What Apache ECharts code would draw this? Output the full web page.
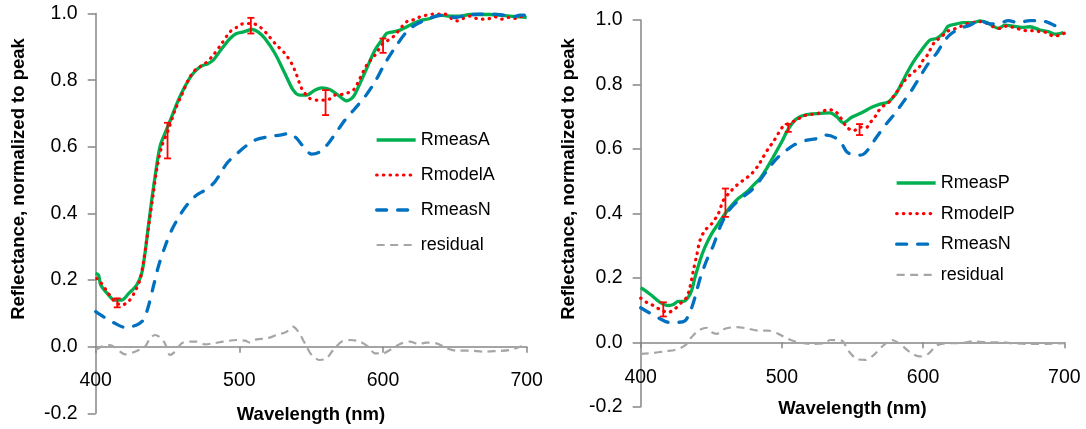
<!DOCTYPE html>
<html>
<head>
<meta charset="utf-8">
<script src="https://cdn.jsdelivr.net/npm/echarts@6/dist/echarts.min.js"></script>
<style>
html,body{margin:0;padding:0;background:#fff;}
#c{width:1086px;height:429px;}
</style>
</head>
<body>
<div id="c"></div>
<script>
// ---------- Left panel (A) ----------
const wlMeasA = [400,402,403.5,408,413,418,423,428.5,432,434.3,436.6,439,441.3,444.7,448.2,452.9,457.5,462,466.8,472.6,478.4,481.8,485.3,488.8,493.5,498,503,509,513,517.8,524.8,531.7,537.5,542,546.8,552.6,557.3,563,568.8,574.7,579.3,583.9,588.6,594.4,600,602.5,607,611.8,618.7,625.7,632.6,639.6,646.6,653.5,660.5,667.4,674.4,681.4,688.3,695.3,700];
const valMeasA = [0.22,0.215,0.185,0.16,0.14,0.14,0.16,0.185,0.22,0.28,0.36,0.44,0.51,0.60,0.64,0.69,0.74,0.78,0.815,0.84,0.85,0.86,0.88,0.90,0.925,0.94,0.945,0.952,0.945,0.925,0.88,0.82,0.77,0.755,0.755,0.77,0.777,0.772,0.755,0.738,0.75,0.79,0.835,0.89,0.925,0.94,0.945,0.95,0.965,0.978,0.985,0.995,0.992,0.992,0.997,0.997,0.997,0.995,0.992,0.99,0.988];

const wlModelA = [400.7,404,408.8,413.4,418,422.7,427.3,430.8,433.1,435.5,437.8,440.1,442.4,445.9,450.5,455.2,459.8,464.4,469.1,476.1,481.8,487.7,493.5,498,501.6,506.2,510.9,514.3,519,524.8,531.3,536.4,539.9,543.4,549.1,554.9,560.8,566.5,572.3,579.3,583.9,588.6,594.4,600,603.6,608.3,614,617.5,622.2,625.7,630.3,634.9,643.1,647.7,651.6,655.8,660.5,665.1,669.7,674.4,677.9,682.5,687.1,691.8,695.3,700];
const valModelA = [0.205,0.19,0.16,0.135,0.125,0.135,0.165,0.20,0.25,0.32,0.39,0.46,0.53,0.60,0.65,0.71,0.755,0.80,0.83,0.85,0.875,0.91,0.945,0.958,0.968,0.97,0.968,0.96,0.94,0.91,0.882,0.85,0.815,0.775,0.745,0.74,0.74,0.755,0.758,0.77,0.805,0.845,0.875,0.91,0.92,0.935,0.965,0.978,0.982,0.99,0.995,0.998,0.998,0.985,0.978,0.985,0.992,0.985,0.983,0.985,0.99,0.983,0.988,0.985,0.99,0.995];

const wlMeasNA = [400,405.3,413.4,420.4,428.5,433.1,436.6,440.1,443.6,448.2,452.9,458.7,464.4,470.3,476.1,483,491.2,498,503.9,510.9,520.1,528.3,535.2,539.9,545.6,550.3,556.1,561.9,567.7,573.5,580.5,587.4,594.4,601.3,609.5,616.4,622.2,630.3,637.3,644.3,650.1,658.2,667.4,676.7,683.6,690.6,695.3,700];
const valMeasNA = [0.105,0.09,0.07,0.058,0.065,0.08,0.12,0.18,0.24,0.30,0.35,0.395,0.43,0.455,0.47,0.495,0.55,0.578,0.60,0.62,0.63,0.635,0.64,0.625,0.595,0.578,0.585,0.61,0.645,0.68,0.715,0.75,0.795,0.85,0.905,0.945,0.965,0.982,0.992,0.995,0.988,0.995,0.998,0.998,0.995,0.99,0.995,0.995];

const wlResA = [400,405,410,417,420.4,427.3,434.3,437.8,441.3,444.7,448.2,451.7,455.2,459.8,465.6,470.3,476.1,481.8,488.8,498,503.9,507.4,512,519,526,532.9,537.1,541,545.6,550.3,556.1,560.7,565.3,571.2,577,583.9,589.7,594.4,600,604.8,611.8,618.7,624.5,630.3,637.3,644.3,651.2,660.5,669.7,679,688.3,695.3,700];
const valResA = [-0.01,0.002,0.005,-0.015,-0.023,-0.015,0.0,0.025,0.035,0.028,0.01,-0.025,-0.015,0.01,0.015,0.015,0.007,0.01,0.015,0.02,0.018,0.012,0.022,0.025,0.035,0.045,0.06,0.045,0.01,-0.025,-0.04,-0.035,-0.01,0.015,0.02,0.015,0.0,-0.02,-0.02,-0.01,0.008,0.015,0.008,0.012,0.01,-0.005,-0.012,-0.012,-0.015,-0.013,-0.01,0.0,0.01];

const errWlA = [415,450,508,560,600];
const errLoA = [0.118,0.565,0.94,0.695,0.882];
const errHiA = [0.145,0.672,0.987,0.77,0.925];

// ---------- Right panel (P) ----------
const wlMeasP = [400,403,407.8,413.7,419.5,423.1,426.6,430.2,433.7,436.1,438.5,442,445.5,450.3,455,459.7,464.4,469.1,475.1,479.7,484.5,489.2,493.9,499.9,503.4,508.1,512.8,519.9,527,534.1,538.8,543.5,549.4,556.5,563.6,569.5,575.4,580.1,583.6,588.4,593.1,599,604.9,609.6,614.3,617.8,623.8,628.5,635.5,640.3,645,649.7,653.3,658,663.9,669.8,675.7,682.8,688.7,693.4,699.3];
const valMeasP = [0.169,0.161,0.145,0.124,0.114,0.117,0.127,0.127,0.14,0.161,0.202,0.254,0.295,0.337,0.368,0.399,0.425,0.446,0.466,0.487,0.508,0.539,0.575,0.622,0.653,0.684,0.70,0.708,0.71,0.712,0.70,0.681,0.698,0.712,0.729,0.739,0.746,0.767,0.793,0.834,0.87,0.907,0.938,0.943,0.959,0.981,0.988,0.992,0.992,0.997,0.992,0.981,0.974,0.984,0.981,0.977,0.979,0.969,0.964,0.956,0.961];

const wlModelP = [400,404.2,408.9,414.9,419.5,424.3,429,432.6,434.9,437.3,439.7,442,445.5,450.3,455,458.5,463.2,468,472.7,478.6,483.3,486.8,490.4,493.9,497.5,501,510,515.2,519.9,524.6,528.2,532.9,537.6,541.1,545.9,550.6,555.3,559.6,562.4,565.9,568.3,571.8,575.4,578.9,581.7,584.1,587.2,590.7,594.3,597.8,600.1,603,604.9,608.4,613.2,616.7,621.4,626.1,630.9,635.5,640.3,645,649.7,654.5,659.2,663.9,668.6,673.4,678.1,682.8,687.5,692.2,697,700];
const valModelP = [0.137,0.124,0.114,0.099,0.093,0.104,0.124,0.14,0.171,0.223,0.27,0.316,0.347,0.368,0.399,0.44,0.466,0.487,0.503,0.523,0.549,0.575,0.601,0.622,0.648,0.67,0.689,0.702,0.707,0.708,0.715,0.722,0.717,0.70,0.668,0.656,0.668,0.666,0.681,0.699,0.717,0.733,0.743,0.762,0.779,0.795,0.813,0.829,0.842,0.857,0.876,0.891,0.907,0.933,0.948,0.964,0.971,0.979,0.988,0.992,0.995,0.99,0.979,0.974,0.981,0.977,0.971,0.967,0.967,0.964,0.961,0.95,0.953,0.959];

const wlMeasNP = [400,405.4,413.7,419.5,426.6,431.4,434.9,438.5,442,446.7,451.4,456.2,460.9,466.8,473.9,478.6,484.5,490.4,496.3,501,508.1,517.6,524.6,531.7,537.6,542.3,545.9,551.8,557.6,562.4,567.1,574.2,580.1,586,591.9,597.8,603.7,609.6,615.5,620.3,626.1,633.2,640.3,647.3,654.5,660.3,667.4,675.7,682.8,688.7,694.6,700];
const valMeasNP = [0.107,0.093,0.073,0.062,0.062,0.067,0.093,0.14,0.197,0.254,0.30,0.357,0.399,0.43,0.456,0.472,0.503,0.539,0.57,0.588,0.611,0.627,0.632,0.643,0.635,0.617,0.591,0.58,0.583,0.606,0.637,0.679,0.71,0.746,0.782,0.824,0.865,0.897,0.938,0.959,0.974,0.984,0.998,0.988,0.99,0.998,0.992,0.998,0.998,0.992,0.981,0.98];

const wlResP = [400,408,417.2,424.3,431.4,436.1,440.8,446.7,450.3,453.8,459.7,468,476.2,483.3,490.4,497.5,504.5,511.6,521.1,530.5,534.1,542.3,547,553,558.9,564.7,571.8,577.8,583.6,590.7,597.8,603.7,609.6,616.7,626.1,635.5,645,654.5,663.9,675.7,687.5,700];
const valResP = [-0.036,-0.034,-0.028,-0.024,-0.01,0.016,0.036,0.045,0.031,0.026,0.042,0.047,0.042,0.036,0.036,0.026,0.01,0.0,-0.005,-0.003,0.007,0.005,-0.026,-0.052,-0.055,-0.041,-0.01,0.007,-0.005,-0.031,-0.044,-0.036,-0.01,-0.003,-0.003,0.003,0.0,0.0,-0.003,-0.005,-0.005,-0.003];

const errWlP = [416,460,504.5,555];
const errLoP = [0.08,0.389,0.653,0.643];
const errHiP = [0.124,0.477,0.677,0.677];

// ---------- Axis ticks ----------
const xTicks = [400,500,600,700];
const yTicks = [-0.2,0.0,0.2,0.4,0.6,0.8,1.0];
const legendA = ['RmeasA','RmodelA','RmeasN','residual'];
const legendP = ['RmeasP','RmodelP','RmeasN','residual'];

// ---------- build ----------
const FONT = "'Liberation Sans', Arial, sans-serif";
const zip = (a, b) => a.map((v, i) => [v, b[i]]);
const zip3 = (a, b, c) => a.map((v, i) => [v, b[i], c[i]]);

const GREEN = '#00B050', RED = '#FF0000', BLUE = '#0070C0', GRAY = '#A6A6A6', AX = '#868686';

const gridBox = [
  { left: 95.7, right: 1086 - 526.7, top: 13.5, bottom: 429 - 413.3 },
  { left: 640.7, right: 1086 - 1064.3, top: 20, bottom: 429 - 406.7 }
];
// pixel distance between the zero line and the grid bottom of each panel
const zeroToBottom = [413.3 - 346.7, 406.7 - 341.7];
const xLabelGap = [24, 26];

function xAxisDef(gi) {
  return {
    gridIndex: gi, type: 'value', min: xTicks[0], max: xTicks[xTicks.length - 1], interval: 100,
    axisLine: { onZero: true, lineStyle: { color: AX, width: 1.5 } },
    axisTick: { show: true, length: 6, lineStyle: { color: AX, width: 1.5 } },
    axisLabel: { color: '#000', fontSize: 19.5, fontFamily: FONT, margin: xLabelGap[gi] - zeroToBottom[gi] },
    splitLine: { show: false }
  };
}
function yAxisDef(gi) {
  return {
    gridIndex: gi, type: 'value', min: yTicks[0], max: yTicks[yTicks.length - 1], interval: 0.2,
    axisLine: { show: true, onZero: false, lineStyle: { color: AX, width: 1.5 } },
    axisTick: { show: true, length: 8, lineStyle: { color: AX, width: 1.5 } },
    axisLabel: { color: '#000', fontSize: 19.5, fontFamily: FONT, margin: 18,
      formatter: v => (Math.abs(v) < 1e-9 ? '0.0' : v.toFixed(1)) },
    splitLine: { show: false }
  };
}
function lineSeries(name, gi, data, color, width, type, cap) {
  return {
    name, type: 'line', xAxisIndex: gi, yAxisIndex: gi, data,
    symbol: 'none', showSymbol: false, smooth: 0.3, silent: true,
    lineStyle: { color, width, type, cap: cap || 'butt', join: 'round' },
    itemStyle: { color },
    emphasis: { disabled: true }, animation: false
  };
}
function errSeries(gi, data) {
  return {
    type: 'custom', xAxisIndex: gi, yAxisIndex: gi, data, silent: true, animation: false,
    encode: { x: 0, y: [1, 2] }, z: 5,
    renderItem: (params, api) => {
      const x = api.value(0);
      const lo = api.coord([x, api.value(1)]);
      const hi = api.coord([x, api.value(2)]);
      const hw = 3.5;
      const st = { stroke: RED, lineWidth: 1.8 };
      return { type: 'group', children: [
        { type: 'line', shape: { x1: lo[0], y1: lo[1], x2: hi[0], y2: hi[1] }, style: st },
        { type: 'line', shape: { x1: lo[0] - hw, y1: lo[1], x2: lo[0] + hw, y2: lo[1] }, style: st },
        { type: 'line', shape: { x1: hi[0] - hw, y1: hi[1], x2: hi[0] + hw, y2: hi[1] }, style: st }
      ]};
    }
  };
}
const dotted = [0.5, 6.2];
const longDash = [10, 11];
const shortDash = [8, 5.5];

function legendDef(data, left, top, gap) {
  return {
    data, orient: 'vertical', left, top, itemWidth: 39, itemHeight: 14, itemGap: gap,
    padding: 0, selectedMode: false,
    itemStyle: { color: 'rgba(0,0,0,0)', borderColor: 'rgba(0,0,0,0)', borderWidth: 0, opacity: 0 },
    lineStyle: { width: 'inherit' },
    textStyle: { color: '#000', fontSize: 18, fontFamily: FONT }
  };
}

const option = {
  animation: false,
  backgroundColor: '#fff',
  grid: gridBox.map(g => Object.assign({ containLabel: false, outerBoundsMode: 'none' }, g)),
  xAxis: [xAxisDef(0), xAxisDef(1)],
  yAxis: [yAxisDef(0), yAxisDef(1)],
  legend: [legendDef(legendA, 375, 131, 17), legendDef(legendP, 895, 174, 12.6)],
  series: [
    lineSeries('RmeasA', 0, zip(wlMeasA, valMeasA), GREEN, 3.3, 'solid'),
    lineSeries('RmodelA', 0, zip(wlModelA, valModelA), RED, 3.2, dotted, 'round'),
    lineSeries('RmeasN', 0, zip(wlMeasNA, valMeasNA), BLUE, 3.3, longDash, 'round'),
    lineSeries('residual', 0, zip(wlResA, valResA), GRAY, 2.2, shortDash),
    errSeries(0, zip3(errWlA, errLoA, errHiA)),
    lineSeries('RmeasP', 1, zip(wlMeasP, valMeasP), GREEN, 3.3, 'solid'),
    lineSeries('RmodelP', 1, zip(wlModelP, valModelP), RED, 3.2, dotted, 'round'),
    lineSeries('RmeasN', 1, zip(wlMeasNP, valMeasNP), BLUE, 3.3, longDash, 'round'),
    lineSeries('residual', 1, zip(wlResP, valResP), GRAY, 2.2, shortDash),
    errSeries(1, zip3(errWlP, errLoP, errHiP))
  ],
  graphic: [
    { type: 'text', x: 19, y: 179, rotation: Math.PI / 2,
      style: { text: 'Reflectance, normalized to peak', font: "bold 18.5px " + FONT, fill: '#000', textAlign: 'center', textVerticalAlign: 'middle' } },
    { type: 'text', x: 569, y: 179, rotation: Math.PI / 2,
      style: { text: 'Reflectance, normalized to peak', font: "bold 18.5px " + FONT, fill: '#000', textAlign: 'center', textVerticalAlign: 'middle' } },
    { type: 'text', x: 311, y: 415,
      style: { text: 'Wavelength (nm)', font: "bold 18.5px " + FONT, fill: '#000', textAlign: 'center', textVerticalAlign: 'middle' } },
    { type: 'text', x: 852.5, y: 409,
      style: { text: 'Wavelength (nm)', font: "bold 18.5px " + FONT, fill: '#000', textAlign: 'center', textVerticalAlign: 'middle' } }
  ]
};

const chart = echarts.init(document.getElementById('c'), null, { renderer: 'canvas' });
chart.setOption(option);
</script>
</body>
</html>
